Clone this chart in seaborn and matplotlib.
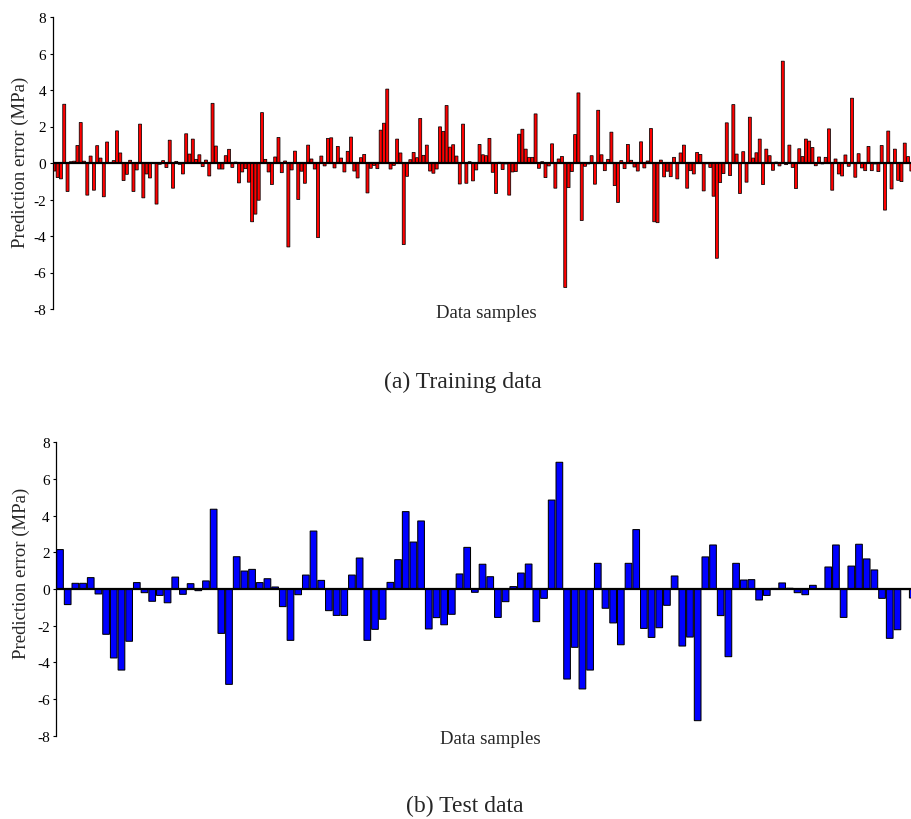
import numpy as np
import matplotlib
matplotlib.use("Agg")
import matplotlib.pyplot as plt
import seaborn as sns

# Prediction errors (MPa) for each training sample
train_errors = [
    -0.44, -0.8, -0.87, 3.22, -1.56, 0.07, 0.1, 0.96, 2.22, 0.1,
    -1.76, 0.38, -1.49, 0.95, 0.27, -1.85, 1.15, 0.02, 0.13, 1.76,
    0.55, -0.96, -0.62, 0.15, -1.56, -0.38, 2.13, -1.91, -0.6, -0.82,
    0.03, -2.25, -0.07, 0.13, -0.25, 1.25, -1.38, 0.09, -0.07, -0.6,
    1.6, 0.49, 1.31, 0.2, 0.45, -0.2, 0.16, -0.71, 3.27, 0.93,
    -0.33, -0.33, 0.4, 0.75, -0.24, 0.05, -1.09, -0.49, -0.31, -1.05,
    -3.22, -2.8, -2.04, 2.76, 0.2, -0.49, -1.18, 0.33, 1.4, -0.53,
    0.11, -4.6, -0.38, 0.65, -2.0, -0.45, -1.11, 0.98, 0.22, -0.33,
    -4.09, 0.38, -0.16, 1.35, 1.38, -0.27, 0.91, 0.27, -0.49, 0.64,
    1.42, -0.44, -0.82, 0.29, 0.47, -1.64, -0.29, -0.13, -0.31, 1.8,
    2.18, 4.05, -0.33, -0.13, 1.31, 0.55, -4.47, -0.73, 0.18, 0.58,
    0.29, 2.44, 0.42, 0.98, -0.44, -0.56, -0.33, 1.98, 1.73, 3.15,
    0.87, 1.0, 0.38, -1.15, 2.13, -1.11, 0.07, -0.98, -0.38, 1.02,
    0.45, 0.4, 1.35, -0.51, -1.67, 0.04, -0.36, -0.05, -1.76, -0.49,
    -0.47, 1.58, 1.85, 0.76, 0.31, 0.31, 2.69, -0.29, 0.07, -0.8,
    -0.16, 1.05, -1.38, 0.22, 0.36, -6.82, -1.35, -0.47, 1.56, 3.84,
    -3.15, -0.18, -0.05, 0.4, -1.16, 2.89, 0.45, -0.42, 0.2, 1.69,
    -1.24, -2.16, 0.13, -0.31, 1.02, 0.15, -0.22, -0.44, 1.16, -0.27,
    0.11, 1.89, -3.22, -3.27, 0.16, -0.76, -0.45, -0.75, 0.31, -0.87,
    0.55, 0.98, -1.38, -0.42, -0.6, 0.58, 0.47, -1.53, -0.04, -0.24,
    -1.82, -5.22, -1.07, -0.58, 2.2, -0.69, 3.2, 0.49, -1.67, 0.62,
    -1.05, 2.51, 0.27, 0.56, 1.31, -1.18, 0.76, 0.4, -0.4, 0.05,
    -0.16, 5.58, -0.09, 0.98, -0.24, -1.4, 0.78, 0.35, 1.31, 1.2,
    0.85, -0.15, 0.33, -0.05, 0.31, 1.87, -1.49, 0.22, -0.6, -0.71,
    0.44, -0.18, 3.55, -0.78, 0.51, -0.27, -0.42, 0.91, -0.42, -0.05,
    -0.47, 0.96, -2.58, 1.75, -1.42, 0.76, -0.95, -1.02, 1.09, 0.35,
    -0.44,
]

# Prediction errors (MPa) for each test sample
test_errors = [
    2.15, -0.85, 0.31, 0.31, 0.62, -0.27, -2.47, -3.76, -4.42, -2.85,
    0.35, -0.2, -0.67, -0.35, -0.75, 0.65, -0.29, 0.29, -0.09, 0.44,
    4.35, -2.42, -5.2, 1.76, 0.98, 1.07, 0.35, 0.56, 0.11, -0.96,
    -2.8, -0.31, 0.76, 3.16, 0.47, -1.18, -1.44, -1.44, 0.76, 1.69,
    -2.8, -2.2, -1.65, 0.36, 1.6, 4.22, 2.56, 3.71, -2.18, -1.56,
    -1.95, -1.38, 0.82, 2.27, -0.18, 1.35, 0.67, -1.55, -0.69, 0.13,
    0.87, 1.36, -1.78, -0.51, 4.85, 6.91, -4.91, -3.18, -5.45, -4.42,
    1.4, -1.05, -1.85, -3.04, 1.4, 3.24, -2.15, -2.64, -2.11, -0.89,
    0.71, -3.11, -2.62, -7.18, 1.75, 2.4, -1.45, -3.69, 1.4, 0.49,
    0.51, -0.6, -0.35, 0.03, 0.33, 0.04, -0.2, -0.31, 0.2, 0.02,
    1.2, 2.4, -1.55, 1.25, 2.44, 1.64, 1.04, -0.51, -2.69, -2.22,
    -0.03, -0.49,
]

y_ticks = [-8, -6, -4, -2, 0, 2, 4, 6, 8]
y_label = "Prediction error (MPa)"
x_label = "Data samples"
captions = ["(a) Training data", "(b) Test data"]

sns.set_style("white")
plt.rcParams["font.family"] = ["Liberation Serif", "DejaVu Serif"]
plt.rcParams["axes.unicode_minus"] = False

W, H = 912, 820
fig = plt.figure(figsize=(W / 100, H / 100), dpi=100)


def fx(px):
    return px / W


def fy(py):
    return 1 - py / H


def draw_panel(ax, values, color, width, edge_lw, xlim):
    idx = np.arange(len(values))
    sns.barplot(x=idx, y=values, color=color, saturation=1, width=width,
                edgecolor="black", linewidth=edge_lw, errorbar=None, ax=ax)
    # keep narrow bars from collapsing to a bare outline when pixel-snapped
    for patch in ax.patches:
        patch.set_snap(False)
    ax.axhline(0, color="black", lw=1.6, zorder=3)
    ax.set_ylim(-8, 8)
    ax.set_xlim(*xlim)
    ax.set_yticks(y_ticks)
    ax.set_yticklabels([str(t) for t in y_ticks], fontsize=11)
    ax.set_xticks([])
    ax.set_xlabel("")
    ax.set_ylabel("")
    for side in ("top", "right", "bottom"):
        ax.spines[side].set_visible(False)
    ax.spines["left"].set_color("black")
    ax.spines["left"].set_linewidth(0.9)
    ax.tick_params(axis="y", direction="out", length=2.5, width=0.8,
                   pad=2, colors="black", left=True)
    ax.set_facecolor("white")


# Training panel
ax1 = fig.add_axes([fx(52.7), fy(310), fx(W - 52.7), 292 / H])
draw_panel(ax1, train_errors, "#ff0000", 0.9, 0.55, (-0.5, 260.2))

# Test panel
ax2 = fig.add_axes([fx(56), fy(736.7), fx(W - 56), 293.4 / H])
draw_panel(ax2, test_errors, "#0000ff", 0.87, 0.75, (-0.52, 110.9))

# Axis titles and captions
fig.text(fx(20), fy(162), y_label, rotation=90, ha="center", va="center",
         fontsize=13.5)
fig.text(fx(21.5), fy(573), y_label, rotation=90, ha="center", va="center",
         fontsize=13.5)
fig.text(fx(486.5), fy(314), x_label, ha="center", va="center", fontsize=13.5)
fig.text(fx(490), fy(740), x_label, ha="center", va="center", fontsize=13.5)
fig.text(fx(463), fy(382), captions[0], ha="center", va="center", fontsize=17)
fig.text(fx(465), fy(806), captions[1], ha="center", va="center", fontsize=17)

fig.savefig("out.png", dpi=100, facecolor="white")
